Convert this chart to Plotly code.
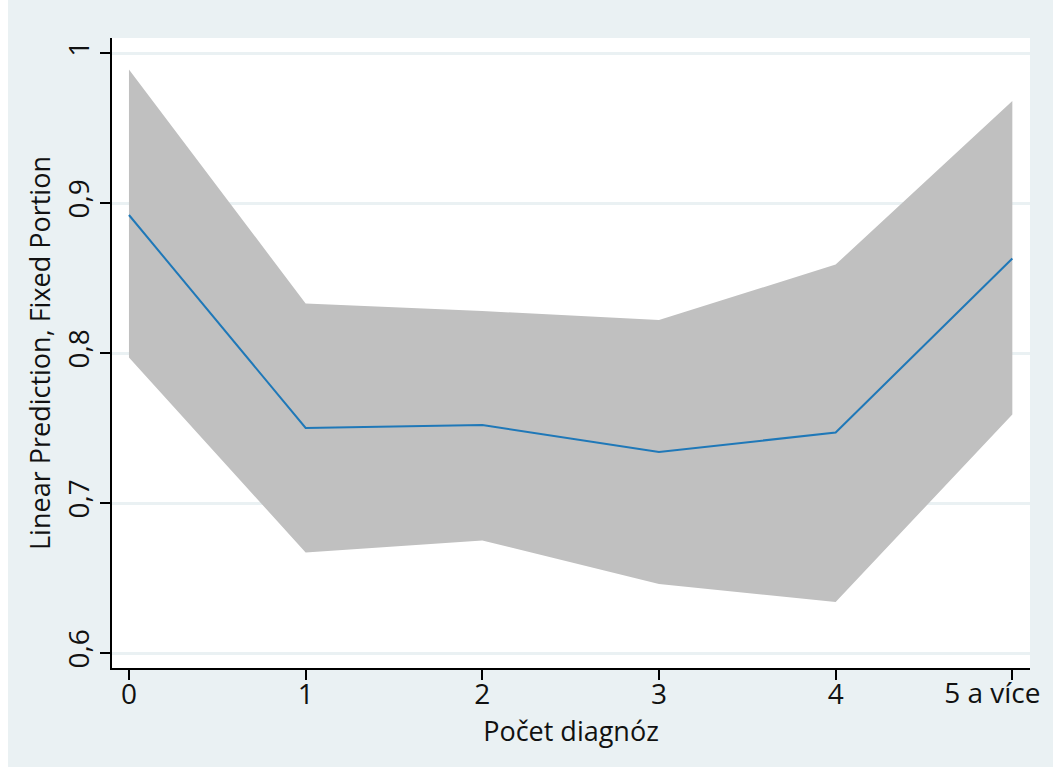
import plotly.graph_objects as go

categories = [0, 1, 2, 3, 4, 5]
tick_labels = ["0", "1", "2", "3", "4", "5 a více"]
prediction = [0.892, 0.750, 0.752, 0.734, 0.747, 0.863]
upper_ci = [0.989, 0.833, 0.828, 0.822, 0.859, 0.968]
lower_ci = [0.797, 0.667, 0.675, 0.646, 0.634, 0.759]
y_ticks = [0.6, 0.7, 0.8, 0.9, 1.0]
y_tick_labels = ["0,6", "0,7", "0,8", "0,9", "1"]

W, H = 1053, 767
L, R, T, B = 112, 23, 38, 99
pw, ph = W - L - R, H - T - B
x_range = [-0.096, 5.10]

fig = go.Figure()
fig.add_trace(go.Scatter(
    x=categories + categories[::-1],
    y=upper_ci + lower_ci[::-1],
    fill="toself", fillcolor="#C0C0C0",
    line=dict(width=0), mode="lines", hoverinfo="skip", showlegend=False))
fig.add_trace(go.Scatter(
    x=categories, y=prediction, mode="lines",
    line=dict(color="#1f78b8", width=2), showlegend=False))
# invisible helper so the second x axis (last label, shifted inward) is drawn
fig.add_trace(go.Scatter(
    x=[categories[-1]], y=[prediction[-1]], xaxis="x2", mode="markers",
    marker=dict(opacity=0), hoverinfo="skip", showlegend=False))

bg = "#EAF1F3"
tickfont = dict(family="Open Sans", size=28, color="#111111")
titlefont = dict(family="Open Sans", size=27, color="#111111")
fig.update_layout(
    width=W, height=H,
    margin=dict(l=L, r=R, t=T, b=B, autoexpand=False),
    paper_bgcolor=bg, plot_bgcolor="white",
    font=dict(family="Open Sans", size=22, color="#111111"), showlegend=False,
    shapes=[
        dict(type="rect", xref="paper", yref="paper",
             x0=-L / pw - 0.01, x1=(8 - L) / pw, y0=-B / ph - 0.01, y1=(H - T) / ph + 0.01,
             fillcolor="white", line=dict(width=0), layer="below"),
        dict(type="rect", xref="paper", yref="paper",
             x0=-L / pw - 0.01, x1=(W - L) / pw + 0.01, y0=(H - T - 11) / ph, y1=(H - T) / ph + 0.01,
             fillcolor="white", line=dict(width=0), layer="below"),
    ],
    xaxis=dict(
        range=x_range, tickvals=categories,
        ticktext=tick_labels[:-1] + [""],
        tickfont=tickfont, automargin=False, ticklabelstandoff=-10,
        showline=True, linecolor="black", linewidth=2,
        ticks="outside", ticklen=10, tickwidth=2, tickcolor="black",
        showgrid=False, zeroline=False,
        title=dict(text="Počet diagnóz", font=titlefont, standoff=0),
    ),
    xaxis2=dict(
        overlaying="x", side="bottom", range=x_range,
        tickvals=categories[-1:], ticktext=tick_labels[-1:],
        tickfont=tickfont, automargin=False, ticklabelstandoff=-10,
        ticklabelshift=-20, ticklabeloverflow="allow",
        showline=False, ticks="outside", ticklen=10, tickcolor="rgba(0,0,0,0)",
        showgrid=False, zeroline=False,
    ),
    yaxis=dict(
        range=[0.59, 1.01], tickvals=y_ticks, ticktext=y_tick_labels, tickangle=-90,
        tickfont=tickfont, automargin=False,
        showline=True, linecolor="black", linewidth=2,
        ticks="outside", ticklen=10, tickwidth=2, tickcolor="black",
        showgrid=True, gridcolor=bg, gridwidth=3, zeroline=False,
        title=dict(text="\u00a0" * 3 + "Linear Prediction, Fixed Portion",
                   font=titlefont, standoff=0),
    ),
)
fig.write_html("out.html")
